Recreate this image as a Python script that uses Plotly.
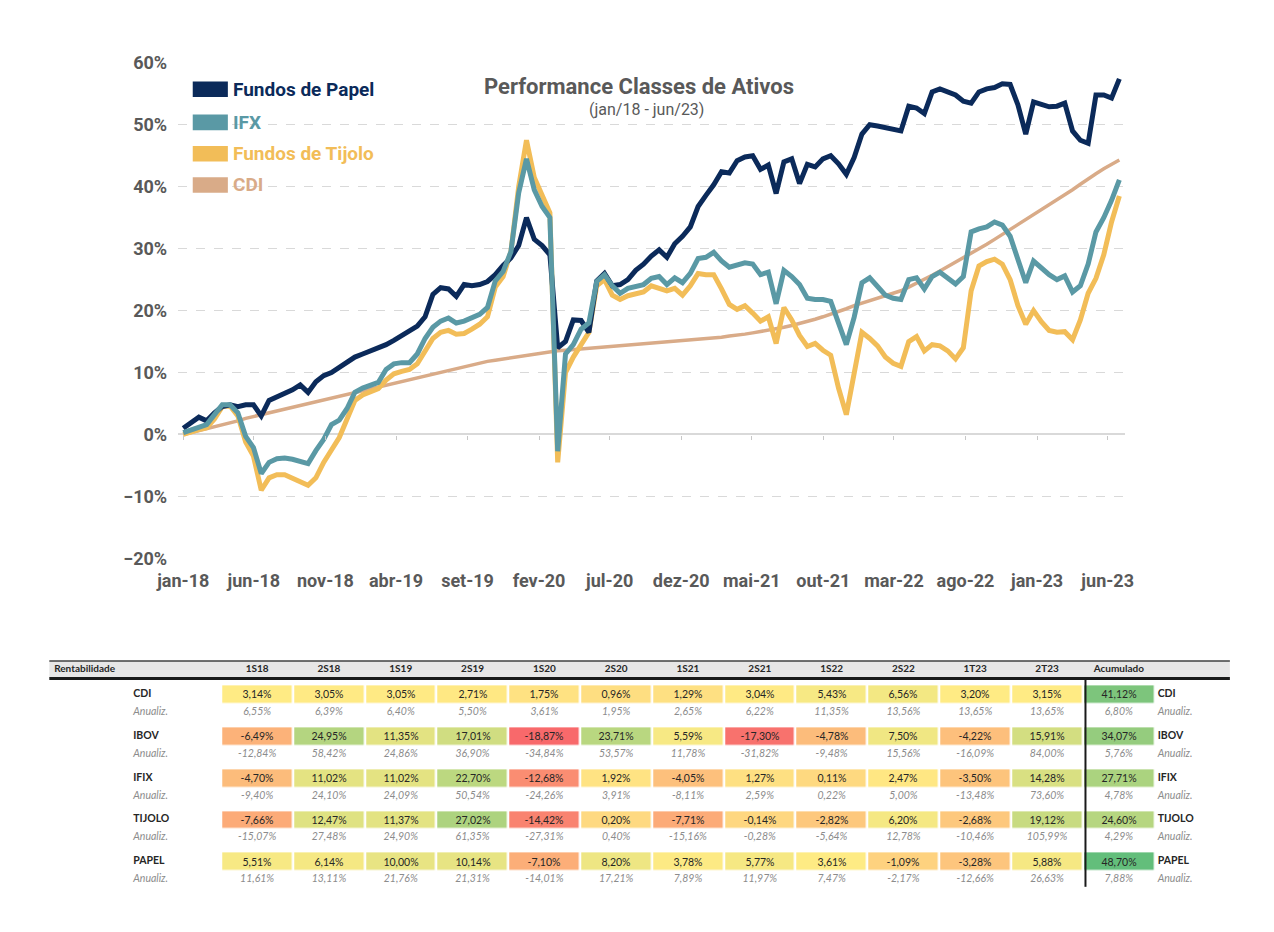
import numpy as np
import pandas as pd
import plotly.graph_objects as go

# ---------------- grafico (rentabilidade acumulada, %)
papel = [1.0, 2.0, 2.8, 2.2, 3.5, 4.5, 4.8, 4.5, 4.8, 4.8,
         3.0, 5.5, 6.0, 6.5, 7.2, 8.0, 6.8, 8.5, 9.5, 10.0,
         10.8, 11.5, 12.5, 13.0, 13.5, 13.8, 14.5, 15.2, 16.0, 16.8,
         17.5, 19.0, 22.6, 23.7, 23.5, 22.3, 24.2, 24.0, 24.2, 24.7,
         25.8, 27.3, 28.5, 30.5, 35.0, 31.5, 30.5, 29.0, 14.0, 15.0,
         18.5, 18.4, 16.5, 24.8, 26.0, 24.0, 24.2, 25.0, 26.5, 27.5,
         28.8, 29.8, 28.6, 30.8, 32.0, 33.5, 36.8, 38.6, 40.3, 42.4,
         42.2, 44.2, 44.8, 45.0, 42.8, 43.5, 38.9, 44.0, 44.5, 40.5,
         43.6, 43.2, 44.5, 45.0, 43.7, 42.0, 44.7, 48.5, 50.0, 49.8,
         49.5, 49.3, 49.0, 53.0, 52.7, 51.8, 55.3, 55.8, 55.3, 54.8,
         53.8, 53.5, 55.3, 55.8, 56.0, 56.6, 56.5, 53.2, 48.5, 53.7,
         53.3, 52.9, 53.0, 53.5, 49.0, 47.5, 47.0, 54.8, 54.8, 54.3,
         57.4]
ifx = [0.3, 0.8, 1.2, 1.6, 3.2, 4.8, 4.8, 3.5, -0.3, -2.1,
       -6.3, -4.5, -3.9, -3.8, -4.0, -4.4, -4.7, -2.6, -0.8, 1.6,
       2.3, 4.2, 6.8, 7.5, 7.9, 8.4, 10.5, 11.4, 11.6, 11.6,
       13.0, 15.5, 17.3, 18.3, 18.8, 18.0, 18.3, 18.9, 19.4, 20.5,
       24.8, 26.3, 29.5, 39.0, 44.5, 39.5, 36.8, 35.0, -2.7, 13.0,
       14.5, 17.0, 18.0, 24.7, 25.8, 24.0, 22.8, 23.6, 24.0, 24.2,
       25.2, 25.5, 24.2, 25.3, 24.5, 26.0, 28.4, 28.6, 29.4, 28.0,
       27.0, 27.4, 27.7, 27.5, 25.8, 26.2, 21.1, 26.5, 25.5, 24.2,
       22.0, 21.8, 21.8, 21.5, 17.9, 14.5, 18.9, 24.5, 25.3, 24.0,
       22.5, 22.0, 21.8, 25.0, 25.3, 23.5, 25.5, 26.2, 25.3, 24.3,
       25.5, 32.7, 33.2, 33.5, 34.3, 33.8, 32.0, 28.4, 24.5, 28.0,
       26.8, 25.8, 25.0, 25.6, 23.0, 24.0, 27.5, 32.7, 35.0, 37.8,
       41.1]
tijolo = [0.0, 0.5, 0.8, 1.1, 2.5, 4.5, 4.6, 3.0, -1.2, -3.5,
          -9.0, -7.0, -6.5, -6.5, -7.0, -7.6, -8.2, -7.0, -4.5, -2.5,
          -0.5, 2.5, 5.5, 6.4, 6.9, 7.4, 8.8, 9.8, 10.2, 10.5,
          11.4, 13.5, 15.5, 16.5, 16.8, 16.2, 16.3, 17.0, 17.8, 19.0,
          23.8, 25.5, 29.5, 40.0, 47.5, 41.5, 38.5, 35.8, -4.5, 10.0,
          12.5, 14.5, 16.5, 24.0, 25.0, 22.5, 21.8, 22.4, 22.8, 23.0,
          24.0, 23.5, 23.2, 23.6, 22.5, 24.0, 26.0, 25.8, 25.8, 23.5,
          21.0, 20.2, 20.8, 19.6, 18.3, 19.0, 14.7, 20.5, 18.5, 16.0,
          14.2, 14.7, 13.6, 12.8, 7.5, 3.2, 9.5, 16.5, 15.5, 14.3,
          12.5, 11.5, 11.0, 15.0, 15.8, 13.5, 14.5, 14.3, 13.5, 12.2,
          14.0, 23.2, 27.2, 27.9, 28.3, 27.5, 25.0, 20.8, 17.8, 20.0,
          18.2, 16.8, 16.5, 16.6, 15.3, 18.5, 22.8, 25.2, 29.0, 34.3,
          38.5]
cdi = [0.0, 0.3, 0.6, 0.9, 1.2, 1.5, 1.9, 2.2, 2.6, 2.9,
       3.2, 3.5, 3.8, 4.1, 4.4, 4.7, 5.0, 5.3, 5.6, 5.9,
       6.2, 6.5, 6.8, 7.1, 7.4, 7.7, 8.0, 8.3, 8.6, 8.9,
       9.2, 9.5, 9.8, 10.1, 10.4, 10.7, 11.0, 11.2, 11.5, 11.8,
       12.0, 12.2, 12.4, 12.6, 12.8, 13.0, 13.2, 13.3, 13.5, 13.6,
       13.7, 13.8, 13.9, 14.0, 14.1, 14.2, 14.3, 14.4, 14.5, 14.6,
       14.7, 14.8, 14.9, 15.0, 15.1, 15.2, 15.4, 15.5, 15.6, 15.7,
       15.9, 16.0, 16.2, 16.4, 16.6, 16.8, 17.0, 17.3, 17.6, 17.9,
       18.2, 18.6, 19.0, 19.4, 19.8, 20.3, 20.8, 21.2, 21.6, 22.0,
       22.4, 22.8, 23.2, 23.8, 24.4, 25.0, 25.7, 26.4, 27.1, 27.8,
       28.5, 29.3, 30.0, 30.7, 31.5, 32.3, 33.0, 33.8, 34.6, 35.4,
       36.2, 37.0, 37.9, 38.7, 39.5, 40.4, 41.3, 42.1, 42.9, 43.6,
       44.3]
datas = pd.date_range('2018-01-01', '2023-06-26', periods=len(papel))

tick_datas = ['2018-01-01', '2018-06-01', '2018-11-01', '2019-04-01', '2019-09-01',
              '2020-02-01', '2020-07-01', '2020-12-01', '2021-05-01', '2021-10-01',
              '2022-03-01', '2022-08-01', '2023-01-01', '2023-06-01']
tick_textos = ['jan-18', 'jun-18', 'nov-18', 'abr-19', 'set-19', 'fev-20', 'jul-20',
               'dez-20', 'mai-21', 'out-21', 'mar-22', 'ago-22', 'jan-23', 'jun-23']

# ---------------- tabela
colunas = ['1S18', '2S18', '1S19', '2S19', '1S20', '2S20', '1S21', '2S21',
           '1S22', '2S22', '1T23', '2T23', 'Acumulado']
classes = ['CDI', 'IBOV', 'IFIX', 'TIJOLO', 'PAPEL']
rent_cdi = [3.14, 3.05, 3.05, 2.71, 1.75, 0.96, 1.29, 3.04, 5.43, 6.56, 3.20, 3.15, 41.12]
anual_cdi = [6.55, 6.39, 6.40, 5.50, 3.61, 1.95, 2.65, 6.22, 11.35, 13.56, 13.65, 13.65, 6.80]
rent_ibov = [-6.49, 24.95, 11.35, 17.01, -18.87, 23.71, 5.59, -17.30, -4.78, 7.50, -4.22, 15.91, 34.07]
anual_ibov = [-12.84, 58.42, 24.86, 36.90, -34.84, 53.57, 11.78, -31.82, -9.48, 15.56, -16.09, 84.00, 5.76]
rent_ifix = [-4.70, 11.02, 11.02, 22.70, -12.68, 1.92, -4.05, 1.27, 0.11, 2.47, -3.50, 14.28, 27.71]
anual_ifix = [-9.40, 24.10, 24.09, 50.54, -24.26, 3.91, -8.11, 2.59, 0.22, 5.00, -13.48, 73.60, 4.78]
rent_tijolo = [-7.66, 12.47, 11.37, 27.02, -14.42, 0.20, -7.71, -0.14, -2.82, 6.20, -2.68, 19.12, 24.60]
anual_tijolo = [-15.07, 27.48, 24.90, 61.35, -27.31, 0.40, -15.16, -0.28, -5.64, 12.78, -10.46, 105.99, 4.29]
rent_papel = [5.51, 6.14, 10.00, 10.14, -7.10, 8.20, 3.78, 5.77, 3.61, -1.09, -3.28, 5.88, 48.70]
anual_papel = [11.61, 13.11, 21.76, 21.31, -14.01, 17.21, 7.89, 11.97, 7.47, -2.17, -12.66, 26.63, 7.88]

rent = [rent_cdi, rent_ibov, rent_ifix, rent_tijolo, rent_papel]
anual = [anual_cdi, anual_ibov, anual_ifix, anual_tijolo, anual_papel]

W, H = 1274, 932


def px_x(p):
    return p / W


def px_y(p):
    return 1 - p / H


def fmt(v):
    return f'{v:.2f}'.replace('.', ',') + '%'


cor_papel = '#0b2a5a'
cor_ifx = '#5a99a5'
cor_tijolo = '#f2bd58'
cor_cdi = '#d9ab88'
cinza = '#595959'

fig = go.Figure()

# ordem de desenho: CDI por baixo, IFX por cima
series = [(cdi, cor_cdi, 3.5), (tijolo, cor_tijolo, 5), (papel, cor_papel, 5), (ifx, cor_ifx, 5)]
for y, cor, larg in series:
    fig.add_trace(go.Scatter(x=datas, y=y, mode='lines', line=dict(color=cor, width=larg),
                             showlegend=False, hoverinfo='skip'))

# legenda feita a mao (blocos grossos + texto colorido)
legenda = [('Fundos de Papel', cor_papel, 80), ('IFX', cor_ifx, 114),
           ('Fundos de Tijolo', cor_tijolo, 146), ('CDI', cor_cdi, 178)]
for nome, cor, yc in legenda:
    fig.add_shape(type='rect', xref='paper', yref='paper', x0=px_x(175), x1=px_x(211),
                  y0=px_y(yc + 8), y1=px_y(yc - 8), fillcolor=cor, line_width=0)
    fig.add_annotation(text=f'<b>{nome}</b>', xref='paper', yref='paper', x=px_x(214),
                       y=px_y(yc), xanchor='left', yanchor='middle', showarrow=False,
                       font=dict(family='Roboto', size=19, color=cor))

# eixo auxiliar so para os tracinhos sobre a linha do zero
fig.add_trace(go.Scatter(x=[datas[0]], y=[None], xaxis='x3', showlegend=False, hoverinfo='skip'))

# heatmap para as celulas coloridas
z_todos = np.array(rent)
z_min, z_max = z_todos.min(), z_todos.max()
z_med = np.percentile(z_todos, 50)
pos_med = (z_med - z_min) / (z_max - z_min)
fig.add_trace(go.Heatmap(
    z=rent, x=list(range(len(colunas))), y=list(range(len(classes))),
    xaxis='x2', yaxis='y2', zmin=z_min, zmax=z_max,
    colorscale=[[0, '#F8696B'], [pos_med, '#FFEB84'], [1, '#63BE7B']],
    showscale=False, xgap=2.5, ygap=24.5,
    text=[[fmt(v) for v in linha] for linha in rent], texttemplate='%{text}',
    textfont=dict(family='Lato', size=10.5, color='#262626'), hoverinfo='skip'))

# valores anualizados
for r, linha in enumerate(anual):
    fig.add_trace(go.Scatter(
        x=list(range(len(colunas))), y=[r + 0.43] * len(colunas), mode='text',
        text=[fmt(v) for v in linha], xaxis='x2', yaxis='y2',
        textfont=dict(family='Lato', size=10.5, color='#8c8c8c', style='italic'),
        showlegend=False, hoverinfo='skip'))

# rotulos das linhas (esquerda e direita)
k = lambda p: (p - 241) / 73.6
for xl in (k(114), k(1164)):
    fig.add_trace(go.Scatter(
        x=[xl] * len(classes), y=list(range(len(classes))), mode='text', text=classes,
        textposition='middle right', xaxis='x2', yaxis='y2',
        textfont=dict(family='Lato', size=10.5, color='#262626', weight='bold'),
        showlegend=False, hoverinfo='skip'))
    fig.add_trace(go.Scatter(
        x=[xl] * len(classes), y=[r + 0.43 for r in range(len(classes))], mode='text',
        text=['Anualiz.'] * len(classes), textposition='middle right', xaxis='x2', yaxis='y2',
        textfont=dict(family='Lato', size=10.5, color='#8c8c8c', style='italic'),
        showlegend=False, hoverinfo='skip'))

# cabecalho
fig.add_trace(go.Scatter(
    x=list(range(len(colunas))), y=[-0.584] * len(colunas), mode='text', text=colunas,
    xaxis='x2', yaxis='y2',
    textfont=dict(family='Lato', size=10, color='#262626', weight='bold'),
    showlegend=False, hoverinfo='skip'))
fig.add_trace(go.Scatter(
    x=[k(33)], y=[-0.584], mode='text', text=['Rentabilidade'], textposition='middle right',
    xaxis='x2', yaxis='y2',
    textfont=dict(family='Lato', size=10, color='#262626', weight='bold'),
    showlegend=False, hoverinfo='skip'))

fig.add_shape(type='rect', xref='paper', yref='paper', x0=px_x(28), x1=px_x(1238),
              y0=px_y(683), y1=px_y(665), fillcolor='#e7e6e6', line_width=0, layer='below')
fig.add_shape(type='line', xref='paper', yref='paper', x0=px_x(28), x1=px_x(1238),
              y0=px_y(665), y1=px_y(665), line=dict(color='#404040', width=1.5))
fig.add_shape(type='line', xref='paper', yref='paper', x0=px_x(28), x1=px_x(1238),
              y0=px_y(683), y1=px_y(683), line=dict(color='#1a1a1a', width=3))
fig.add_shape(type='line', xref='paper', yref='paper', x0=px_x(1090), x1=px_x(1090),
              y0=px_y(684), y1=px_y(896), line=dict(color='#1a1a1a', width=2))

# titulo
fig.add_annotation(text='<b>Performance Classes de Ativos</b>', xref='paper', yref='paper',
                   x=px_x(632), y=px_y(77), yanchor='middle', showarrow=False,
                   font=dict(family='Roboto', size=22, color=cinza))
fig.add_annotation(text='(jan/18 - jun/23)', xref='paper', yref='paper',
                   x=px_x(640), y=px_y(101), yanchor='middle', showarrow=False,
                   font=dict(family='Roboto', size=16, color=cinza))

faixa_x = ['2017-12-21', '2023-07-07']
dom_x = [px_x(160), px_x(1130)]
fig.update_layout(
    width=W, height=H, paper_bgcolor='white', plot_bgcolor='rgba(0,0,0,0)',
    margin=dict(l=0, r=0, t=0, b=0), showlegend=False,
    xaxis=dict(domain=dom_x, range=faixa_x, type='date', tickvals=tick_datas, ticktext=tick_textos,
               showgrid=False, zeroline=False, showline=False, ticks='', ticklabelstandoff=10,
               tickfont=dict(family='Roboto', size=18, color=cinza, weight='bold')),
    yaxis=dict(domain=[px_y(560), px_y(53)], range=[-20, 60], dtick=10, ticksuffix='%',
               gridcolor='#d9d9d9', griddash='dash', gridwidth=1,
               zeroline=True, zerolinecolor='#d9d9d9', zerolinewidth=1.5,
               showline=False, ticklabelstandoff=10,
               tickfont=dict(family='Roboto', size=18, color=cinza, weight='bold')),
    xaxis3=dict(domain=dom_x, range=faixa_x, type='date', overlaying='x', anchor='free',
                position=px_y(433.5), tickvals=tick_datas, showticklabels=False,
                ticks='outside', ticklen=4, tickcolor='#c8c8c8', showgrid=False,
                zeroline=False, showline=False),
    xaxis2=dict(domain=[0, 1], range=[k(0), k(W)], visible=False, anchor='y2'),
    yaxis2=dict(domain=[0, 1], range=[(H - 699) / 42.8, -699 / 42.8], visible=False, anchor='x2'),
)

fig.write_html('out.html', config={'displayModeBar': False},
               post_script="document.body.style.margin='0';")
